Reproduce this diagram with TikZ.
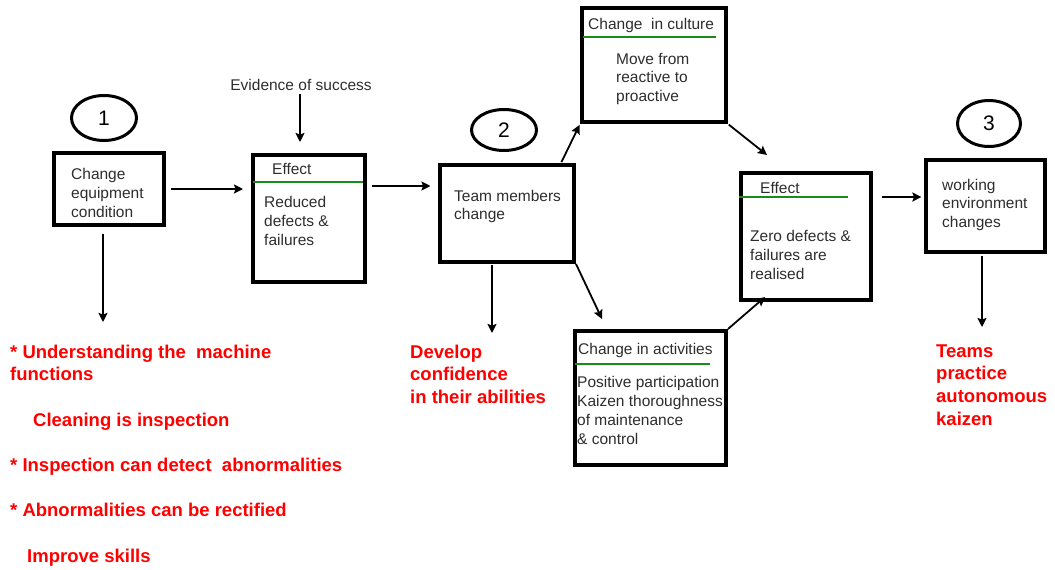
\documentclass[tikz,border=0pt]{standalone}
\usepackage{fontspec}
\setmainfont{Liberation Sans}
\usetikzlibrary{calc, arrows.meta, shapes.geometric}

\definecolor{rulegreen}{RGB}{25,140,25}
\definecolor{txtgrey}{RGB}{45,45,45}

\begin{document}
\begin{tikzpicture}[x=1pt, y=-1pt,
		box/.style = {draw, line width=3.8pt, inner sep=0pt},
		num/.style = {draw, ellipse, line width=3pt, inner sep=0pt, font=\fontsize{21}{21}\selectfont},
		txt/.style = {anchor=base west, align=left, inner sep=0pt, text=txtgrey, font=\fontsize{15.5}{18.7}\selectfont},
		note/.style = {anchor=base west, align=left, inner sep=0pt, text=red, font=\fontsize{18.5}{22.7}\selectfont\bfseries},
		rule/.style = {rulegreen, line width=2pt},
		arr/.style = {line width=1.8pt, -{Stealth[length=9pt, width=9pt, inset=1.5pt]}}
	]
		\useasboundingbox (0,0) rectangle (1055,570);
		
		% boxes
		\node[box, minimum width=110.2, minimum height=72.2] (equip) at (109,189) {};
		\node[box, minimum width=112.2, minimum height=127.2] (effA) at (309,218.5) {};
		\node[box, minimum width=134.2, minimum height=97.2] (team) at (507,213.5) {};
		\node[box, minimum width=144.2, minimum height=114.2] (culture) at (654,65) {};
		\node[box, minimum width=130.2, minimum height=127.2] (effB) at (806,236.5) {};
		\node[box, minimum width=119.2, minimum height=92.2] (work) at (985.5,206) {};
		\node[box, minimum width=151.2, minimum height=134.2] (actv) at (650.5,398) {};
		
		% step numbers
		\node[num, minimum width=65, minimum height=45] (one) at (104,118) {1};
		\node[num, minimum width=65, minimum height=41] (two) at (504,130) {2};
		\node[num, minimum width=63, minimum height=46] (three) at (989,123.5) {3};
		
		% green rules under the headings
		\draw[rule] (253,182) -- (363,182);
		\draw[rule] (583,37) -- (716,37);
		\draw[rule] (739,197) -- (848,197);
		\draw[rule] (575,364) -- (710,364);
		
		% box texts (base = last line)
		\node[txt] (equipTxt) at (71,217) {Change\\equipment\\condition};
		\node[txt] (effAHead) at (272,174) {Effect};
		\node[txt] (effATxt) at (264,245) {Reduced\\defects \&\\failures};
		\node[txt] (teamTxt) at (454,219.7) {Team members\\change};
		\node[txt] (cultHead) at (588,29) {Change~ in culture};
		\node[txt] (cultTxt) at (616,101.4) {Move from\\reactive to\\proactive};
		\node[txt] (effBHead) at (760,193) {Effect};
		\node[txt] (effBTxt) at (750,279) {Zero defects \&\\failures are\\realised};
		\node[txt] (workTxt) at (942,227.4) {working\\environment\\changes};
		\node[txt] (actvHead) at (578,354) {Change in activities};
		\node[txt] (actvTxt) at (577,444) {Positive participation\\Kaizen thoroughness\\of maintenance\\\& control};
		\node[txt, anchor=base] (evid) at (301,90) {Evidence of success};
		
		% red notes
		\node[note] (skills) at (10,562.3) {* Understanding the~ machine\\functions\\ \\\hspace{23pt}Cleaning is inspection\\ \\* Inspection can detect~ abnormalities\\ \\* Abnormalities can be rectified\\ \\\hspace{17pt}Improve skills};
		\node[note] (confid) at (410,403.4) {Develop\\confidence\\in their abilities};
		\node[note] (kaizen) at (936,425.1) {Teams\\practice\\autonomous\\kaizen};
		
		% free ends of arrows
		\coordinate (cultTip) at (767,155);
		\coordinate (actTip) at (602,319);
		\coordinate (teamDown) at (492,333);
		\coordinate (effTip) at (765,297);
		\coordinate (workDown) at (982,327);
		\coordinate (equipDown) at (103,322);
		
		\begin{scope}[arr]
			\draw[shorten <=5, shorten >=8] (equip.east) -- (equip.east -| effA.west);
			\draw[shorten <=4, shorten >=11] ([xshift=-1]evid.south) -- ([xshift=-1]evid.south |- effA.north);
			\draw[shorten <=4.5, shorten >=7.5] ([yshift=32.5]effA.east) -- ([yshift=32.5]effA.east -| team.west);
			\draw[shorten <=1, shorten >=1] ([xshift=54]team.north) -- (culture.south west);
			\draw[shorten <=1] (culture.south east) -- (cultTip);
			\draw (team.south east) -- (actTip);
			\draw[shorten <=1] ([xshift=-15]team.south) -- (teamDown);
			\draw (actv.north east) -- (effTip);
			\draw[shorten <=8.5, shorten >=2.6] ([yshift=39.5]effB.east) -- ([yshift=39.5]effB.east -| work.west);
			\draw[shorten <=2] ([xshift=-3.5]work.south) -- (workDown);
			\draw[shorten <=7] ([xshift=-6]equip.south) -- (equipDown);
		\end{scope}
	\end{tikzpicture}
\end{document}
